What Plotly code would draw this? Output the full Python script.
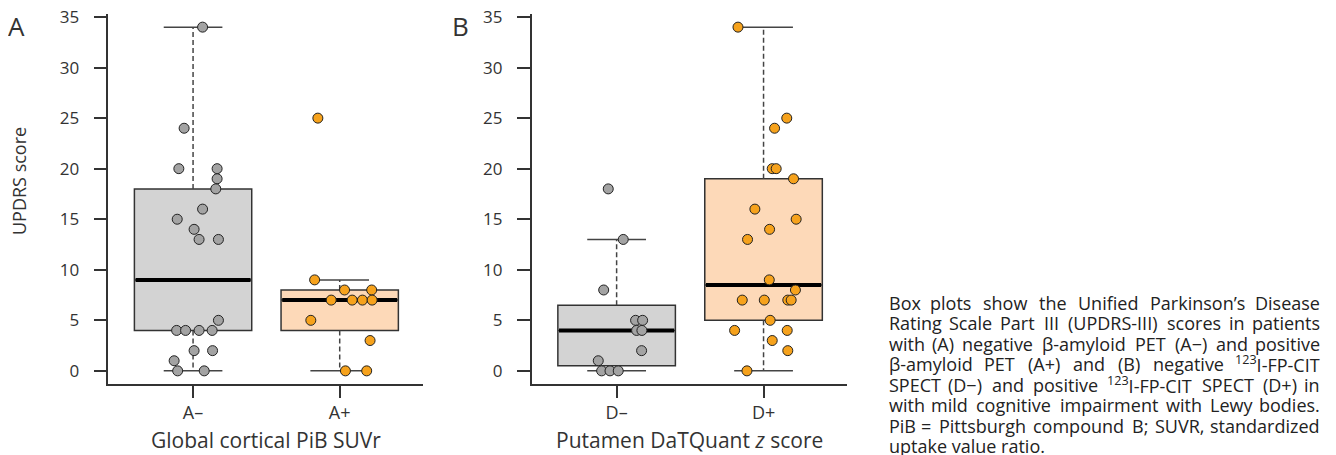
import os
import re
import struct
import plotly.graph_objects as go

# ---------------- data ----------------
cats_A = ["A–", "A+"]
cats_B = ["D–", "D+"]

a_neg = [34, 24, 20, 20, 19, 18, 16, 15, 14, 13, 13, 5, 4, 4, 4, 4, 2, 2, 1, 0, 0]
a_neg_jit = [0.065, -0.061, -0.097, 0.164, 0.164, 0.155, 0.065, -0.108, 0.007, 0.041, 0.173,
             0.173, -0.112, -0.051, 0.041, 0.130, 0.007, 0.133, -0.129, -0.105, 0.076]
a_pos = [25, 9, 8, 8, 7, 7, 7, 7, 5, 3, 0, 0]
a_pos_jit = [-0.149, -0.171, 0.033, 0.218, -0.058, 0.085, 0.155, 0.221, -0.197, 0.207, 0.039, 0.184]

d_neg = [18, 13, 8, 5, 5, 4, 4, 2, 1, 0, 0, 0]
d_neg_jit = [-0.057, 0.045, -0.088, 0.129, 0.177, 0.136, 0.172, 0.170, -0.125, -0.102, -0.045, 0.011]
d_pos = [34, 25, 24, 20, 20, 19, 16, 15, 14, 13, 9, 8, 7, 7, 7, 7, 5, 4, 4, 3, 2, 0]
d_pos_jit = [-0.174, 0.158, 0.075, 0.059, 0.086, 0.204, -0.059, 0.222, 0.041, -0.109, 0.039, 0.217,
             -0.145, 0.005, 0.165, 0.188, 0.045, -0.197, 0.161, 0.059, 0.165, -0.113]

# box statistics as drawn: [negative group, positive group]
A_q1 = [4, 4]
A_med = [9, 7]
A_q3 = [18, 8]
A_lo = [0, 0]
A_hi = [34, 9]

B_q1 = [0.5, 5]
B_med = [4, 8.5]
B_q3 = [6.5, 19]
B_lo = [0, 0]
B_hi = [13, 34]

y_ticks = [0, 5, 10, 15, 20, 25, 30, 35]

caption_lines = [
    "Box plots show the Unified Parkinson’s Disease",
    "Rating Scale Part III (UPDRS-III) scores in patients",
    "with (A) negative β-amyloid PET (A−) and positive",
    "β-amyloid PET (A+) and (B) negative <sup>123</sup>I-FP-CIT",
    "SPECT (D−) and positive <sup>123</sup>I-FP-CIT SPECT (D+) in",
    "with mild cognitive impairment with Lewy bodies.",
    "PiB = Pittsburgh compound B; SUVR, standardized",
    "uptake value ratio.",
]

# ---------------- styling ----------------
OFF = 8                      # page body margin of the rendered html
W, H = 1336 - OFF, 455 - OFF
FONT = "Open Sans"
TXT = "#333333"
AX = "#333333"
GRAY_BOX = "#d3d3d3"
GRAY_PT = "#a3a3a3"
OR_BOX = "#fdd9b8"
OR_PT = "#f6a21c"
BOXW = 0.8
CAPW = 0.2
CAP_FS = 18


def px_x(p):
    return (p - OFF) / W


def px_y(p):
    return 1 - (p - OFF) / H


# ---------- text width measurement (for justified caption) ----------
def _find_font():
    cands = []
    for root in ["/usr/share/fonts", "/usr/local/share/fonts",
                 os.path.expanduser("~/.fonts"), os.path.expanduser("~/.local/share/fonts")]:
        if not os.path.isdir(root):
            continue
        for dp, _, fns in os.walk(root):
            for f in fns:
                fl = f.lower()
                if fl.startswith("opensans") and fl.endswith((".ttf", ".otf")) and "italic" not in fl:
                    cands.append(os.path.join(dp, f))
    cands.sort(key=lambda p: (0 if "regular" in p.lower() else 1 if "[" in p else 2, len(p)))
    return cands[0] if cands else None


def _load_widths(path):
    data = open(path, "rb").read()
    n = struct.unpack(">H", data[4:6])[0]
    tabs = {}
    for i in range(n):
        tag, _, off, ln = struct.unpack(">4sIII", data[12 + 16 * i: 28 + 16 * i])
        tabs[tag.decode("latin1")] = off
    upem = struct.unpack(">H", data[tabs["head"] + 18: tabs["head"] + 20])[0]
    nhm = struct.unpack(">H", data[tabs["hhea"] + 34: tabs["hhea"] + 36])[0]
    hm = tabs["hmtx"]
    adv = [struct.unpack(">H", data[hm + 4 * i: hm + 4 * i + 2])[0] for i in range(nhm)]
    cm = tabs["cmap"]
    nsub = struct.unpack(">H", data[cm + 2: cm + 4])[0]
    sub = None
    for i in range(nsub):
        pid, eid, off = struct.unpack(">HHI", data[cm + 4 + 8 * i: cm + 12 + 8 * i])
        fmt = struct.unpack(">H", data[cm + off: cm + off + 2])[0]
        if fmt == 4 and (pid == 3 or pid == 0):
            sub = cm + off
            break
    segx2 = struct.unpack(">H", data[sub + 6: sub + 8])[0]
    seg = segx2 // 2
    ends = struct.unpack(">%dH" % seg, data[sub + 14: sub + 14 + segx2])
    starts = struct.unpack(">%dH" % seg, data[sub + 16 + segx2: sub + 16 + 2 * segx2])
    deltas = struct.unpack(">%dh" % seg, data[sub + 16 + 2 * segx2: sub + 16 + 3 * segx2])
    rpos = sub + 16 + 3 * segx2
    roffs = struct.unpack(">%dH" % seg, data[rpos: rpos + segx2])

    def width(ch):
        c = ord(ch)
        for i in range(seg):
            if starts[i] <= c <= ends[i]:
                if roffs[i] == 0:
                    g = (c + deltas[i]) & 0xFFFF
                else:
                    a = rpos + 2 * i + roffs[i] + 2 * (c - starts[i])
                    g = struct.unpack(">H", data[a: a + 2])[0]
                    g = (g + deltas[i]) & 0xFFFF if g else 0
                return adv[min(g, nhm - 1)] / upem
        return 0.55
    return width


try:
    _fp = _find_font()
    char_w = _load_widths(_fp) if _fp else None
except Exception:
    char_w = None
if char_w is None:
    def char_w(ch):
        if ch == " ":
            return 0.26
        if ch in "il.,;:'’|I":
            return 0.27
        if ch in "()-rtfj":
            return 0.36
        if ch in "mwMW":
            return 0.85
        if ch.isupper():
            return 0.66
        return 0.56


def text_w(s, fs):
    total = 0.0
    for part in re.split(r"(<sup>.*?</sup>)", s):
        if part.startswith("<sup>"):
            inner = part[5:-6]
            total += sum(char_w(c) for c in inner) * fs * 0.7
        else:
            total += sum(char_w(c) for c in part) * fs
    return total


fig = go.Figure()


def add_panel(xa, ya, q1, med, q3, lo, hi, groups):
    for i in range(2):
        fill = GRAY_BOX if i == 0 else OR_BOX
        fig.add_trace(go.Box(
            x=[i], q1=[q1[i]], median=[med[i]], q3=[q3[i]],
            lowerfence=[q1[i]], upperfence=[q3[i]],
            width=BOXW, fillcolor=fill, line=dict(color=AX, width=1.5),
            whiskerwidth=0, boxpoints=False, showlegend=False,
            hoverinfo="skip", xaxis=xa, yaxis=ya))
        fig.add_trace(go.Scatter(
            x=[i, i, None, i, i], y=[q3[i], hi[i], None, q1[i], lo[i]],
            mode="lines", line=dict(color="#444444", width=1.5, dash="5px,3px"),
            showlegend=False, hoverinfo="skip", xaxis=xa, yaxis=ya))
        fig.add_trace(go.Scatter(
            x=[i - CAPW, i + CAPW, None, i - CAPW, i + CAPW],
            y=[hi[i], hi[i], None, lo[i], lo[i]],
            mode="lines", line=dict(color="#444444", width=1.5),
            showlegend=False, hoverinfo="skip", xaxis=xa, yaxis=ya))
        fig.add_trace(go.Scatter(
            x=[i - BOXW / 2 + 0.008, i + BOXW / 2 - 0.008], y=[med[i], med[i]],
            mode="lines", line=dict(color="black", width=4),
            showlegend=False, hoverinfo="skip", xaxis=xa, yaxis=ya))
    for i, (vals, jit) in enumerate(groups):
        fig.add_trace(go.Scatter(
            x=[i + j for j in jit], y=vals, mode="markers",
            marker=dict(size=10, color=GRAY_PT if i == 0 else OR_PT,
                        line=dict(color="#222222", width=1)),
            showlegend=False, hoverinfo="skip", xaxis=xa, yaxis=ya))


add_panel("x", "y", A_q1, A_med, A_q3, A_lo, A_hi, [(a_neg, a_neg_jit), (a_pos, a_pos_jit)])
add_panel("x2", "y2", B_q1, B_med, B_q3, B_lo, B_hi, [(d_neg, d_neg_jit), (d_pos, d_pos_jit)])

ydom = [px_y(383.5), px_y(14)]
yrange = [-1.25, 35.3]
xrange = [-0.578, 1.57]

xcommon = dict(range=xrange, showline=True, linecolor=AX, linewidth=1.5,
               ticks="outside", ticklen=13, tickwidth=1.5, tickcolor=AX,
               tickvals=[0, 1], showgrid=False, zeroline=False, automargin=False,
               tickfont=dict(family=FONT, size=18, color=TXT), ticklabelstandoff=-1,
               ticklabeloverflow="allow", fixedrange=True)
ycommon = dict(range=yrange, domain=ydom, showline=True, linecolor=AX, linewidth=1.5,
               ticks="outside", ticklen=13, tickwidth=1.5, tickcolor=AX,
               tickvals=y_ticks, showgrid=False, zeroline=False, automargin=False,
               tickfont=dict(family=FONT, size=17, color=TXT), ticklabelstandoff=11,
               ticklabeloverflow="allow", fixedrange=True)

fig.update_layout(
    width=W, height=H,
    margin=dict(l=0, r=0, t=0, b=0, pad=0, autoexpand=False),
    paper_bgcolor="white", plot_bgcolor="white",
    showlegend=False,
    font=dict(family=FONT, color=TXT),
    xaxis=dict(xcommon, domain=[px_x(108.3), px_x(423.3)], ticktext=cats_A, anchor="y"),
    yaxis=dict(ycommon, anchor="x"),
    xaxis2=dict(xcommon, domain=[px_x(531.7), px_x(847.3)], ticktext=cats_B, anchor="y2"),
    yaxis2=dict(ycommon, anchor="x2"),
)


def note(text, x, y, size, color=TXT, xanchor="center", angle=0):
    return dict(text=text, x=px_x(x), y=px_y(y), xref="paper", yref="paper",
                xanchor=xanchor, yanchor="middle", textangle=angle, showarrow=False,
                font=dict(family=FONT, size=size, color=color))


ann = [
    note("A", 16, 26, 26),
    note("B", 460, 26, 26),
    note("UPDRS score", 19, 181, 18, angle=-90),
    note("Global cortical PiB SUVr", 265.8, 440, 21),
    note("Putamen DaTQuant <i>z</i> score", 689.5, 440, 21),
]

CAP_L, CAP_R = 886.7, 1322.0
for k, line in enumerate(caption_lines):
    yy = 302.7 + 20.5 * k
    words = line.split(" ")
    if k == len(caption_lines) - 1 or len(words) < 2:
        ann.append(note(line, CAP_L, yy, CAP_FS, color="#222222", xanchor="left"))
        continue
    ws = [text_w(w, CAP_FS) for w in words]
    gap = (CAP_R - CAP_L - sum(ws)) / (len(words) - 1)
    xcur = CAP_L
    for j, (w, wd) in enumerate(zip(words, ws)):
        if j == 0:
            ann.append(note(w, xcur, yy, CAP_FS, color="#222222", xanchor="left"))
        elif j == len(words) - 1:
            ann.append(note(w, CAP_R, yy, CAP_FS, color="#222222", xanchor="right"))
        else:
            ann.append(note(w, xcur + wd / 2, yy, CAP_FS, color="#222222", xanchor="center"))
        xcur += wd + gap
fig.update_layout(annotations=ann)

fig.write_html("out.html")
